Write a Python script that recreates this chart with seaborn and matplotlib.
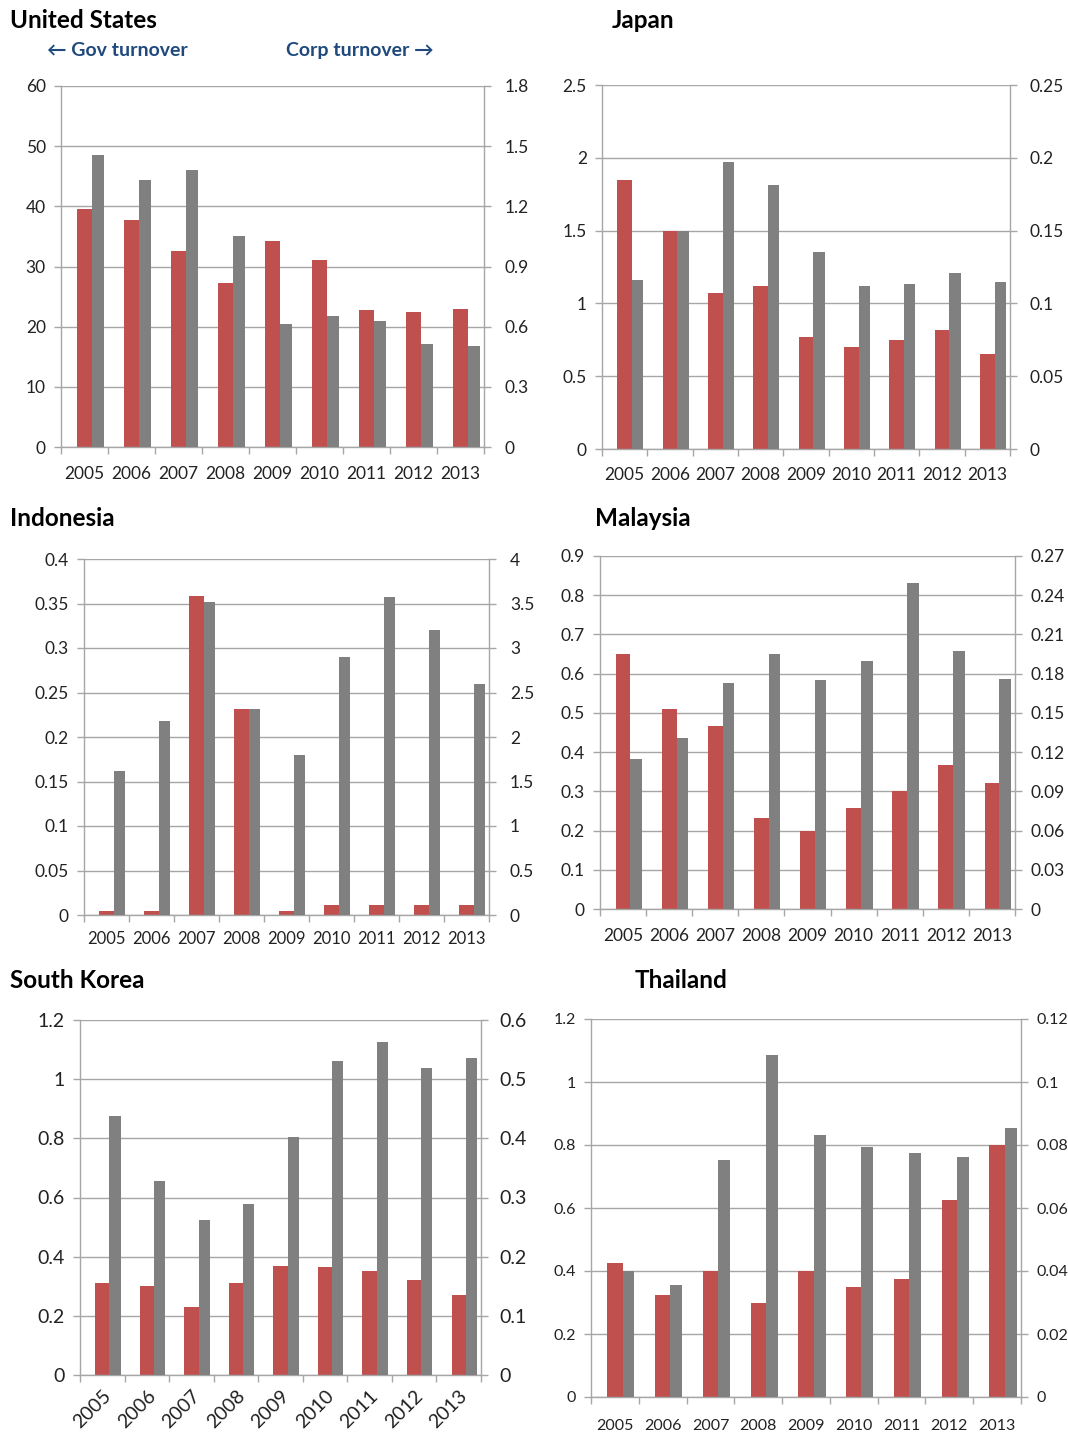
import numpy as np
import pandas as pd
import matplotlib
matplotlib.use("Agg")
import matplotlib.pyplot as plt
import seaborn as sns
from matplotlib.ticker import FuncFormatter, FixedLocator

# データ (左軸: Gov turnover, 右軸: Corp turnover)
years = ["2005", "2006", "2007", "2008", "2009", "2010", "2011", "2012", "2013"]

us_gov = [39.5, 37.7, 32.6, 27.3, 34.3, 31.0, 22.8, 22.5, 23.0]
us_corp = [1.455, 1.33, 1.38, 1.05, 0.615, 0.655, 0.627, 0.516, 0.504]

jp_gov = [1.85, 1.50, 1.07, 1.12, 0.77, 0.70, 0.75, 0.82, 0.65]
jp_corp = [0.116, 0.150, 0.197, 0.181, 0.135, 0.112, 0.113, 0.121, 0.115]

id_gov = [0.004, 0.005, 0.358, 0.231, 0.005, 0.011, 0.011, 0.011, 0.011]
id_corp = [1.62, 2.18, 3.52, 2.32, 1.80, 2.90, 3.57, 3.20, 2.60]

my_gov = [0.65, 0.51, 0.467, 0.233, 0.20, 0.258, 0.30, 0.366, 0.321]
my_corp = [0.115, 0.131, 0.1725, 0.195, 0.1755, 0.190, 0.249, 0.197, 0.176]

kr_gov = [0.31, 0.30, 0.23, 0.31, 0.37, 0.365, 0.35, 0.32, 0.27]
kr_corp = [0.4375, 0.3285, 0.2625, 0.2885, 0.4025, 0.53, 0.5625, 0.5185, 0.535]

th_gov = [0.425, 0.325, 0.40, 0.30, 0.40, 0.35, 0.375, 0.625, 0.80]
th_corp = [0.040, 0.0355, 0.0752, 0.1085, 0.0832, 0.0795, 0.0775, 0.0762, 0.0855]

RED = "#C0504D"
GREY = "#808080"
LINE = "#A6A6A6"
BLUE = "#1F497D"
TXT = "#222222"

W, H = 1068, 1432

sns.set_style("white")
plt.rcParams["font.family"] = ["Lato", "DejaVu Sans"]

fig = plt.figure(figsize=(W / 100, H / 100), dpi=100)


def fmt(v, _):
    return f"{round(v, 6):g}"


def add_panel(box, gov, corp, lmax, ln, rmax, title, title_xy,
              rot=False, xfs=12.5, yfs=12.5, rpad=7, xpad=14):
    l, r, t, b = box
    ax = fig.add_axes([l / W, 1 - b / H, (r - l) / W, (b - t) / H])
    df = pd.DataFrame({"year": years, "gov": gov, "corp": corp})

    sns.barplot(data=df, x="year", y="gov", ax=ax, color=RED, width=0.32,
                saturation=1, errorbar=None, linewidth=0)
    ax2 = ax.twinx()
    sns.barplot(data=df, x="year", y="corp", ax=ax2, color=GREY, width=0.25,
                saturation=1, errorbar=None, linewidth=0)
    # 灰色のバーを赤の右隣へずらす
    for p in ax2.patches:
        p.set_x(p.get_x() + 0.285)

    ax.set_xlim(-0.5, 8.5)
    ax.set_ylim(0, lmax)
    ax2.set_ylim(0, rmax)
    ax.set_yticks(np.linspace(0, lmax, ln + 1))
    ax2.set_yticks(np.linspace(0, rmax, ln + 1))
    ax.yaxis.set_major_formatter(FuncFormatter(fmt))
    ax2.yaxis.set_major_formatter(FuncFormatter(fmt))
    for a in (ax, ax2):
        a.set_xlabel("")
        a.set_ylabel("")

    ax.set_axisbelow(True)
    ax.yaxis.grid(True, color=LINE, lw=1)
    ax.xaxis.grid(False)

    ax.spines["top"].set_visible(False)
    ax2.spines["top"].set_visible(False)
    ax2.spines["left"].set_visible(False)
    ax2.spines["bottom"].set_visible(False)
    ax.spines["right"].set_visible(False)
    for s in [ax.spines["left"], ax.spines["bottom"], ax2.spines["right"]]:
        s.set_color(LINE)
        s.set_linewidth(1)

    ax.tick_params(axis="y", direction="out", length=5, width=1, color=LINE,
                   labelsize=yfs, pad=6, labelcolor=TXT, left=True)
    ax2.tick_params(axis="y", direction="out", length=5, width=1, color=LINE,
                    labelsize=yfs, pad=rpad, labelcolor=TXT, right=True)

    ax.xaxis.set_minor_locator(FixedLocator(np.arange(-0.5, 9, 1.0)))
    ax.tick_params(axis="x", which="minor", direction="out", length=5,
                   width=1, color=LINE, bottom=True)
    ax.tick_params(axis="x", which="major", length=0, pad=xpad,
                   labelsize=xfs, labelcolor=TXT)
    ax.set_xticks(range(len(years)))
    if rot:
        ax.set_xticklabels(years, rotation=45, ha="right",
                           rotation_mode="anchor")
    else:
        ax.set_xticklabels(years)

    fig.text(title_xy[0] / W, 1 - title_xy[1] / H, title, fontsize=17.5,
             fontweight="bold", va="center", ha="left", color="black")
    return ax


add_panel((61, 484, 86, 447), us_gov, us_corp, 60, 6, 1.8,
          "United States", (10, 20), rpad=10)
add_panel((602, 1010, 85, 449), jp_gov, jp_corp, 2.5, 5, 0.25,
          "Japan", (612, 20), rpad=9, xpad=13)
add_panel((84, 489, 559, 915), id_gov, id_corp, 0.4, 8, 4.0,
          "Indonesia", (10, 518), xfs=12, rpad=10, xpad=11.5)
add_panel((600, 1015, 556, 909), my_gov, my_corp, 0.9, 9, 0.27,
          "Malaysia", (595, 518), rpad=6, xpad=14)
add_panel((80, 481, 1020, 1375), kr_gov, kr_corp, 1.2, 6, 0.6,
          "South Korea", (10, 980), rot=True, xfs=14, yfs=14, rpad=8,
          xpad=9)
add_panel((591, 1021, 1019, 1397), th_gov, th_corp, 1.2, 6, 0.12,
          "Thailand", (635, 980), xfs=11.5, yfs=11.5, rpad=6, xpad=16)

# 凡例代わりの矢印テキスト
fig.text(47 / W, 1 - 56 / H, "\u2190 Gov turnover", fontsize=14,
         fontweight="bold", color=BLUE, va="baseline", ha="left",
         family=["Lato", "DejaVu Sans"])
fig.text(286 / W, 1 - 56 / H, "Corp turnover \u2192", fontsize=14,
         fontweight="bold", color=BLUE, va="baseline", ha="left",
         family=["Lato", "DejaVu Sans"])

fig.savefig("out.png", dpi=100)
